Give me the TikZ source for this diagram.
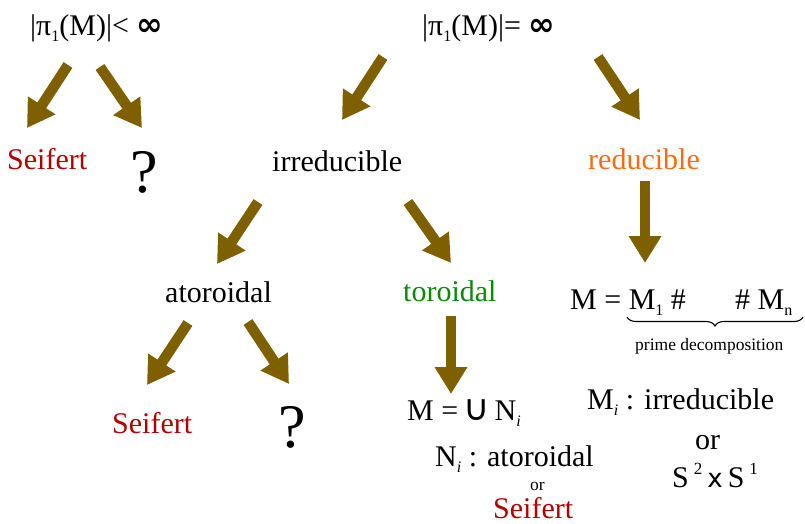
\documentclass[tikz,border=0pt]{standalone}
\usepackage{fontspec}
\setmainfont{Liberation Serif}
\newfontfamily\djv{DejaVu Sans}
\usetikzlibrary{arrows.meta,decorations.pathreplacing}
\definecolor{arrowc}{HTML}{7F6000}
\definecolor{seifc}{HTML}{B00000}
\definecolor{redc}{HTML}{FF6A10}
\definecolor{torc}{HTML}{088A08}
\newcommand{\lowsub}[1]{\raisebox{-0.22em}{\fontsize{16}{16}\selectfont #1}}
\newcommand{\highsup}[1]{\raisebox{0.42em}{\fontsize{17}{17}\selectfont #1}}
\newcommand{\inftyb}{{\djv\bfseries\fontsize{32}{36}\selectfont ∞}}
\begin{document}
\begin{tikzpicture}[x=1pt,y=-1pt,
  txt/.style={inner sep=0pt,anchor=base west,font=\fontsize{30}{36}\selectfont},
  small/.style={inner sep=0pt,anchor=base west,font=\fontsize{17.5}{22}\selectfont},
  bigq/.style={inner sep=0pt,anchor=base west,font=\fontsize{62}{70}\selectfont},
  blockarrow/.style={draw=arrowc,line width=10.5pt,line cap=butt,
    -{Triangle[width=31pt,length=27pt,fill=arrowc]}},
  bracec/.style={decorate,decoration={brace,mirror,amplitude=9pt},line width=1.1pt}]
\useasboundingbox (0,0) rectangle (805,523);

% texts
\node[txt] (fin) at (30,35) {|π\lowsub{1}(M)|< \inftyb};
\node[txt] (inf) at (422,35) {|π\lowsub{1}(M)|= \inftyb};
\node[txt,text=seifc] (seif1) at (7,169) {Seifert};
\node[bigq] (q1) at (130,192) {?};
\node[txt] (irr) at (272,171) {irreducible};
\node[txt,text=redc] (red) at (588,169) {reducible};
\node[txt] (ator) at (165,302) {atoroidal};
\node[txt,text=torc] (tor) at (403,301) {toroidal};
\node[txt] (mdec) at (570,309) {M = M\lowsub{1} \#};
\node[txt] (mdec2) at (735,309) {\# M\lowsub{n}};
\node[small] (prime) at (635,350) {prime decomposition};
\node[txt,text=seifc] (seif2) at (112,433) {Seifert};
\node[bigq] (q2) at (278,447) {?};
\node[txt] (munion) at (407,420) {M =\,{\djv\fontsize{36}{40}\selectfont ∪}\,N\lowsub{\itshape i}};
\node[txt] (nat) at (435,466) {N\lowsub{\itshape i} : atoroidal};
\node[small] (or1) at (530,490) {or};
\node[txt,text=seifc] (seif3) at (493,518) {Seifert};
\node[txt] (mirr) at (587,409) {M\lowsub{\itshape i} : irreducible};
\node[txt] (or2) at (695,449) {or};
\node[txt] (s2s1) at (672,487) {S\,\highsup{2}\,{\djv\fontsize{26}{30}\selectfont x}\,S\,\highsup{1}};

% brace
\coordinate (bl) at (627,317);
\coordinate (br) at (803,317);
\draw[bracec] (bl) -- (br);

% arrows
\coordinate (a1s) at (68,65);   \coordinate (a1e) at (27,128);
\coordinate (a2s) at (100,67);  \coordinate (a2e) at (142,128);
\coordinate (a3s) at (383,57);  \coordinate (a3e) at (342,120);
\coordinate (a4s) at (598,57);  \coordinate (a4e) at (640,120);
\coordinate (a5s) at (258,202); \coordinate (a5e) at (217,264);
\coordinate (a6s) at (408,202); \coordinate (a6e) at (451,263);
\coordinate (a7s) at (645,181); \coordinate (a7e) at (645,263);
\coordinate (a8s) at (188,323); \coordinate (a8e) at (147,385);
\coordinate (a9s) at (248,322); \coordinate (a9e) at (289,384);
\coordinate (a10s) at (451,316); \coordinate (a10e) at (451,394);
\foreach \i in {1,...,10} {\draw[blockarrow] (a\i s) -- (a\i e);}
\end{tikzpicture}
\end{document}
